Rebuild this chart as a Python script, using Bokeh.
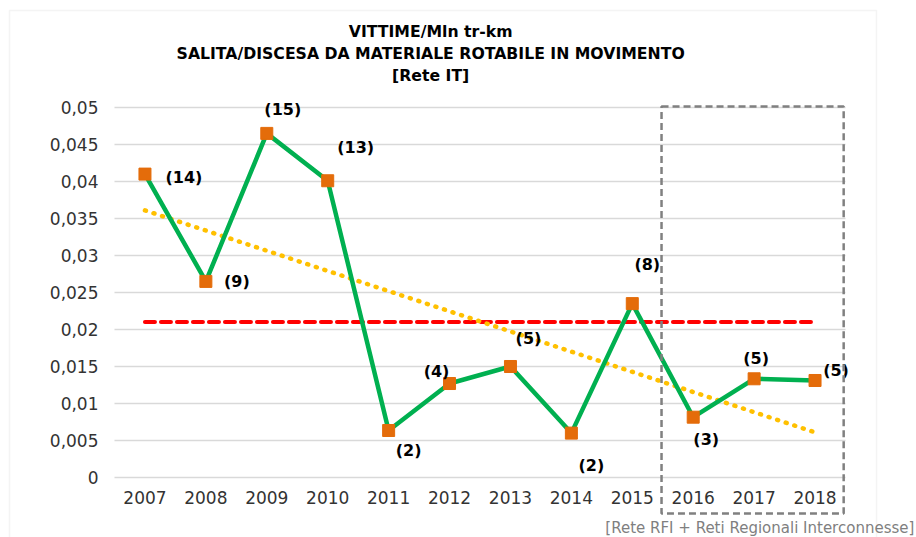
from bokeh.plotting import figure
from bokeh.models import Range1d, FixedTicker, Label, BoxAnnotation, ColumnDataSource
from bokeh.core.properties import value
from bokeh.embed import file_html
from bokeh.resources import INLINE

# ---- data ----
years = [2007, 2008, 2009, 2010, 2011, 2012, 2013, 2014, 2015, 2016, 2017, 2018]
year_labels = ["2007", "2008", "2009", "2010", "2011", "2012", "2013", "2014", "2015", "2016", "2017", "2018"]
rate = [0.0410, 0.0265, 0.0465, 0.0401, 0.00635, 0.0127, 0.0150, 0.0060, 0.0235, 0.00815, 0.01334, 0.01311]
victims = ["(14)", "(9)", "(15)", "(13)", "(2)", "(4)", "(5)", "(2)", "(8)", "(3)", "(5)", "(5)"]
mean_years = [2007, 2018]
mean_value = [0.021, 0.021]
trend_years = [2007, 2018]
trend_value = [0.0361, 0.0061]
y_ticks = [0.0, 0.005, 0.01, 0.015, 0.02, 0.025, 0.03, 0.035, 0.04, 0.045, 0.05]
y_tick_labels = ["0", "0,005", "0,01", "0,015", "0,02", "0,025", "0,03", "0,035", "0,04", "0,045", "0,05"]
title_lines = ["VITTIME/Mln tr-km", "SALITA/DISCESA DA MATERIALE ROTABILE IN MOVIMENTO", "[Rete IT]"]
footer = "[Rete RFI + Reti Regionali Interconnesse]"

# label offsets in pixels (screen, + is down)
lab_dx = [39, 31, 16, 28, 20, -13, 18, 20, 15, 13, 2, 21]
lab_dy = [3, 0, -24, -33, 20, -12, -28, 32, -39, 22, -20, -10]

FONT = "DejaVu Sans"
TXT = "#333333"

# plot area: years 2006.5..2018.5, values 0..0.05 ; frame covers the whole canvas
p = figure(width=916, height=537, output_backend="svg", toolbar_location=None, title=None,
           x_range=Range1d(2004.6286, 2019.6655), y_range=Range1d(-0.008108, 0.064459),
           min_border=0, min_border_left=0, min_border_right=0, min_border_top=0, min_border_bottom=0)
p.outline_line_color = None
p.background_fill_color = "white"
p.border_fill_color = "white"
p.xgrid.visible = False
p.ygrid.visible = False

# gridlines limited to the plot area
x_left = [2006.5] * len(y_ticks)
x_right = [2018.5] * len(y_ticks)
p.segment(x0=x_left, y0=y_ticks, x1=x_right, y1=y_ticks, line_color="#D9D9D9", line_width=1.5)

# axes placed inside the frame
p.xaxis.fixed_location = 0
p.yaxis.fixed_location = 2006.5
p.xaxis.ticker = FixedTicker(ticks=years)
p.xaxis.major_label_overrides = {y: s for y, s in zip(years, year_labels)}
p.yaxis.ticker = FixedTicker(ticks=y_ticks)
p.yaxis.major_label_overrides = {t: s for t, s in zip(y_ticks, y_tick_labels)}
for ax in (p.xaxis[0], p.yaxis[0]):
    ax.axis_line_color = None
    ax.major_tick_line_color = None
    ax.minor_tick_line_color = None
    ax.major_tick_in = 0
    ax.major_tick_out = 0
    ax.major_label_text_font = FONT
    ax.major_label_text_font_size = "17px"
    ax.major_label_text_color = TXT
p.xaxis.major_label_standoff = 13
p.yaxis.major_label_standoff = 16

# outer chart border
p.add_layout(BoxAnnotation(left=2004.776, right=2019.009, top=0.063108, bottom=-0.0095,
                           fill_color=None, line_color="#D9D9D9", line_width=1.5))

# mean line
p.line(mean_years, mean_value, line_color="#FF0000", line_width=4, line_dash="10 6", line_cap="round")
# trend line
p.line(trend_years, trend_value, line_color="#FFC000", line_width=4.5, line_dash="1 8", line_cap="round")
# series
p.line(years, rate, line_color="#00B050", line_width=4.5)
p.scatter(years, rate, marker="square", size=12, fill_color="#E46C0A", line_color="#E46C0A")

src = ColumnDataSource(dict(x=years, y=rate, t=victims, dx=lab_dx, dy=lab_dy))
p.text(x="x", y="y", text="t", x_offset="dx", y_offset="dy", source=src,
       text_font=value(FONT), text_font_style="bold", text_font_size="16px",
       text_color="black", text_align="center", text_baseline="middle")

# highlight box for recent years
p.add_layout(BoxAnnotation(left=2015.48, right=2018.47, top=0.05015, bottom=-0.00487,
                           fill_color=None, fill_alpha=0, line_color="#808080", line_alpha=1.0,
                           line_width=2.5, line_dash="7 4"))

# title
for line, yv in zip(title_lines, [0.06027, 0.05730, 0.05432]):
    p.add_layout(Label(x=2011.69, y=yv, text=line, text_font=FONT, text_font_style="bold",
                       text_font_size="15.7px", text_color="black", text_align="center",
                       text_baseline="middle"))

p.add_layout(Label(x=2019.63, y=-0.00676, text=footer, text_font=FONT, text_font_size="15px",
                   text_color="#7F7F7F", text_align="right", text_baseline="middle"))

open("out.html", "w").write(file_html(p, INLINE))
